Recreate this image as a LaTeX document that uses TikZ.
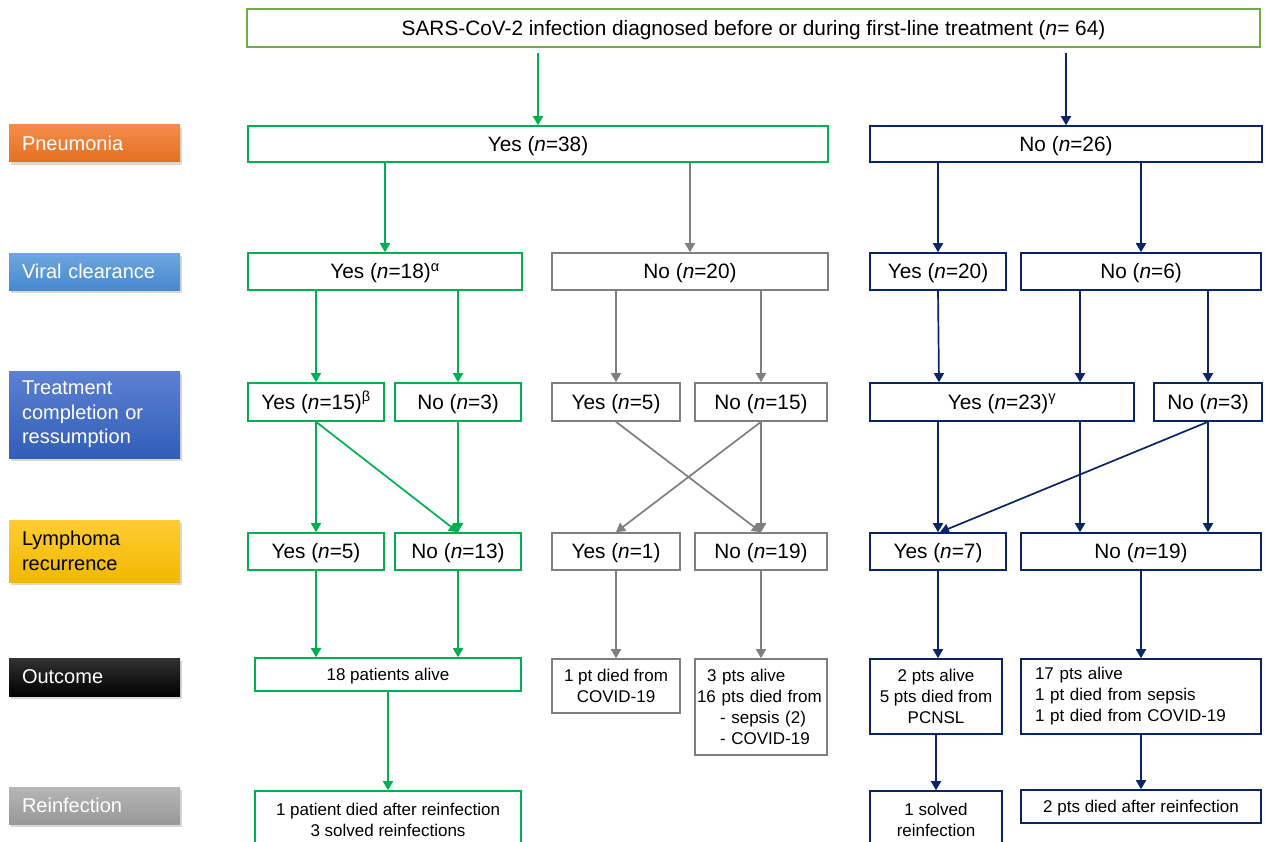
\documentclass[tikz,border=0pt]{standalone}
\usepackage{fontspec}
\setmainfont{Liberation Sans}
\usetikzlibrary{arrows.meta,shadows,calc}
\definecolor{cgreen}{HTML}{00B050}
\definecolor{ctopgreen}{HTML}{70AD47}
\definecolor{cgrey}{HTML}{7F7F7F}
\definecolor{cnavy}{HTML}{0A2468}
\begin{document}
\begin{tikzpicture}[x=1pt,y=-1pt,
  box/.style={draw, line width=1.6pt, inner sep=0pt, align=center, fill=white,
    font=\fontsize{20.8}{24}\selectfont},
  one/.style={text height=16.5pt, text depth=2pt},
  gbox/.style={box, draw=cgreen},
  ybox/.style={box, draw=cgrey},
  nbox/.style={box, draw=cnavy},
  topbox/.style={box, draw=ctopgreen},
  small/.style={font=\fontsize{17}{21}\selectfont},
  lab/.style={inner xsep=13pt, inner ysep=0pt, text width=145pt, align=left,
    minimum width=171pt, font=\fontsize{20}{24.5}\selectfont, text=white,
    drop shadow={opacity=0.3, shadow xshift=2pt, shadow yshift=-3pt}},
  arr/.style={line width=1.7pt, -{Triangle[width=10pt,length=9pt]}},
  garr/.style={arr, draw=cgreen, fill=cgreen},
  yarr/.style={arr, draw=cgrey, fill=cgrey},
  narr/.style={arr, draw=cnavy, fill=cnavy}]
\useasboundingbox (0,0) rectangle (1265,842);
\fill[white] (0,0) rectangle (1265,842);

% left labels
\node[lab, minimum height=37pt, top color={rgb,255:red,242;green,140;blue,76}, bottom color={rgb,255:red,229;green,112;blue,31}] (lpneu) at (94.5,143.5) {Pneumonia};
\node[lab, minimum height=37pt, top color={rgb,255:red,110;green,167;blue,223}, bottom color={rgb,255:red,72;green,136;blue,207}] (lviral) at (94.5,271.5) {Viral clearance};
\node[lab, minimum height=87pt, top color={rgb,255:red,92;green,128;blue,210}, bottom color={rgb,255:red,50;green,94;blue,185}] (ltreat) at (94.5,414.5) {Treatment\\completion or\\ressumption};
\node[lab, minimum height=62pt, text=black, top color={rgb,255:red,255;green,204;blue,51}, bottom color={rgb,255:red,240;green,184;blue,0}] (llymph) at (94.5,551) {Lymphoma\\recurrence};
\node[lab, minimum height=38pt, top color={rgb,255:red,50;green,50;blue,50}, bottom color=black] (lout) at (94.5,677) {Outcome};
\node[lab, minimum height=37pt, top color={rgb,255:red,182;green,182;blue,182}, bottom color={rgb,255:red,152;green,152;blue,152}] (lreinf) at (94.5,805.5) {Reinfection};

% top
\node[topbox, one, minimum width=1013pt, minimum height=38pt] (top) at (753.5,28) {SARS-CoV-2 infection diagnosed before or during first-line treatment (\textit{n}= 64)};

% row 1
\node[gbox, one, minimum width=580pt, minimum height=36pt] (yes38) at (538,144) {Yes (\textit{n}=38)};
\node[nbox, one, minimum width=392pt, minimum height=36pt] (no26) at (1066,144) {No (\textit{n}=26)};

% row 2
\node[gbox, one, minimum width=274pt, minimum height=37pt] (yes18) at (385,271.5) {Yes (\textit{n}=18)\textsuperscript{α}};
\node[ybox, one, minimum width=276pt, minimum height=37pt] (no20) at (690,271.5) {No (\textit{n}=20)};
\node[nbox, one, minimum width=136pt, minimum height=37pt] (yes20) at (938,271.5) {Yes (\textit{n}=20)};
\node[nbox, one, minimum width=240pt, minimum height=37pt] (no6) at (1141,271.5) {No (\textit{n}=6)};

% row 3
\node[gbox, one, minimum width=136pt, minimum height=38pt] (yes15) at (316,402) {Yes (\textit{n}=15)\textsuperscript{β}};
\node[gbox, one, minimum width=126pt, minimum height=38pt] (no3g) at (458,402) {No (\textit{n}=3)};
\node[ybox, one, minimum width=128pt, minimum height=38pt] (yes5) at (616,402) {Yes (\textit{n}=5)};
\node[ybox, one, minimum width=132pt, minimum height=38pt] (no15) at (761,402) {No (\textit{n}=15)};
\node[nbox, one, minimum width=264pt, minimum height=38pt] (yes23) at (1002,402) {Yes (\textit{n}=23)\textsuperscript{γ}};
\node[nbox, one, minimum width=108pt, minimum height=38pt] (no3n) at (1208,402) {No (\textit{n}=3)};

% row 4
\node[gbox, one, minimum width=136pt, minimum height=37pt] (yes5g) at (316,551.5) {Yes (\textit{n}=5)};
\node[gbox, one, minimum width=126pt, minimum height=37pt] (no13) at (458,551.5) {No (\textit{n}=13)};
\node[ybox, one, minimum width=128pt, minimum height=37pt] (yes1) at (616,551.5) {Yes (\textit{n}=1)};
\node[ybox, one, minimum width=132pt, minimum height=37pt] (no19g) at (761,551.5) {No (\textit{n}=19)};
\node[nbox, one, minimum width=136pt, minimum height=37pt] (yes7) at (938,551.5) {Yes (\textit{n}=7)};
\node[nbox, one, minimum width=240pt, minimum height=37pt] (no19n) at (1141,551.5) {No (\textit{n}=19)};

% row 5
\node[gbox, small, text height=13.5pt, text depth=1pt, minimum width=266pt, minimum height=33pt] (alive18) at (388,674.5) {18 patients alive};
\node[ybox, small, minimum width=128pt, minimum height=54pt] (died1) at (616,686) {1 pt died from\\COVID-19};
\node[ybox, small, text width=132pt, align=left, minimum height=96pt] (grey4) at (761,707) {\hspace*{12pt}3 pts alive\\\hspace*{2pt}16 pts died from\\\hspace*{25pt}- sepsis (2)\\\hspace*{25pt}- COVID-19};
\node[nbox, small, minimum width=132pt, minimum height=75pt] (navy2) at (936,696.5) {2 pts alive\\5 pts died from\\PCNSL};
\node[nbox, small, text width=212pt, inner xsep=14pt, align=left, minimum height=75pt] (navy17) at (1141,696.5) {17 pts alive\\1 pt died from sepsis\\1 pt died from COVID-19};

% row 6
\node[gbox, small, minimum width=266pt, minimum height=58pt] (reinfg) at (388,820) {1 patient died after reinfection\\3 solved reinfections};
\node[nbox, small, minimum width=132pt, minimum height=58pt] (reinfn1) at (936,820) {1 solved\\reinfection};
\node[nbox, small, text height=13.5pt, text depth=1pt, minimum width=240pt, minimum height=33pt] (reinfn2) at (1141,806.5) {2 pts died after reinfection};

% connectors
\draw[garr, shorten <=5pt] (top.south -| yes38.north) -- (yes38.north);
\draw[narr, shorten <=5pt] (top.south -| no26.north) -- (no26.north);

\draw[garr] (yes38.south -| yes18.north) -- (yes18.north);
\draw[yarr] (yes38.south -| no20.north) -- (no20.north);
\draw[narr] (no26.south -| yes20.north) -- (yes20.north);
\draw[narr] (no26.south -| no6.north) -- (no6.north);

\draw[garr] (yes18.south -| yes15.north) -- (yes15.north);
\draw[garr] (yes18.south -| no3g.north) -- (no3g.north);
\draw[yarr] (no20.south -| yes5.north) -- (yes5.north);
\draw[yarr] (no20.south -| no15.north) -- (no15.north);
\draw[narr] (yes20.south) -- ([xshift=-63pt]yes23.north);
\draw[narr] ([xshift=-61pt]no6.south) -- ([xshift=78pt]yes23.north);
\draw[narr] (no6.south -| no3n.north) -- (no3n.north);

\draw[garr] (yes15.south) -- (yes5g.north);
\draw[garr] (yes15.south) -- (no13.north);
\draw[garr] (no3g.south) -- (no13.north);
\draw[yarr] (yes5.south) -- (no19g.north);
\draw[yarr] (no15.south) -- (yes1.north);
\draw[yarr] (no15.south) -- (no19g.north);
\draw[narr] (yes23.south -| yes7.north) -- (yes7.north);
\draw[narr] ([xshift=78pt]yes23.south) -- ([xshift=78pt]yes23.south |- no19n.north);
\draw[narr] (no3n.south) -- (no3n.south |- no19n.north);
\draw[narr] (no3n.south) -- ([xshift=2pt]yes7.north);

\draw[garr] (yes5g.south) -- (yes5g.south |- alive18.north);
\draw[garr] (no13.south) -- (no13.south |- alive18.north);
\draw[yarr] (yes1.south) -- (died1.north);
\draw[yarr] (no19g.south) -- (grey4.north);
\draw[narr] (yes7.south) -- (yes7.south |- navy2.north);
\draw[narr] (no19n.south) -- (no19n.south |- navy17.north);

\draw[garr] (alive18.south) -- (reinfg.north);
\draw[narr] (navy2.south) -- (reinfn1.north);
\draw[narr] (navy17.south) -- (navy17.south |- reinfn2.north);
\end{tikzpicture}
\end{document}
